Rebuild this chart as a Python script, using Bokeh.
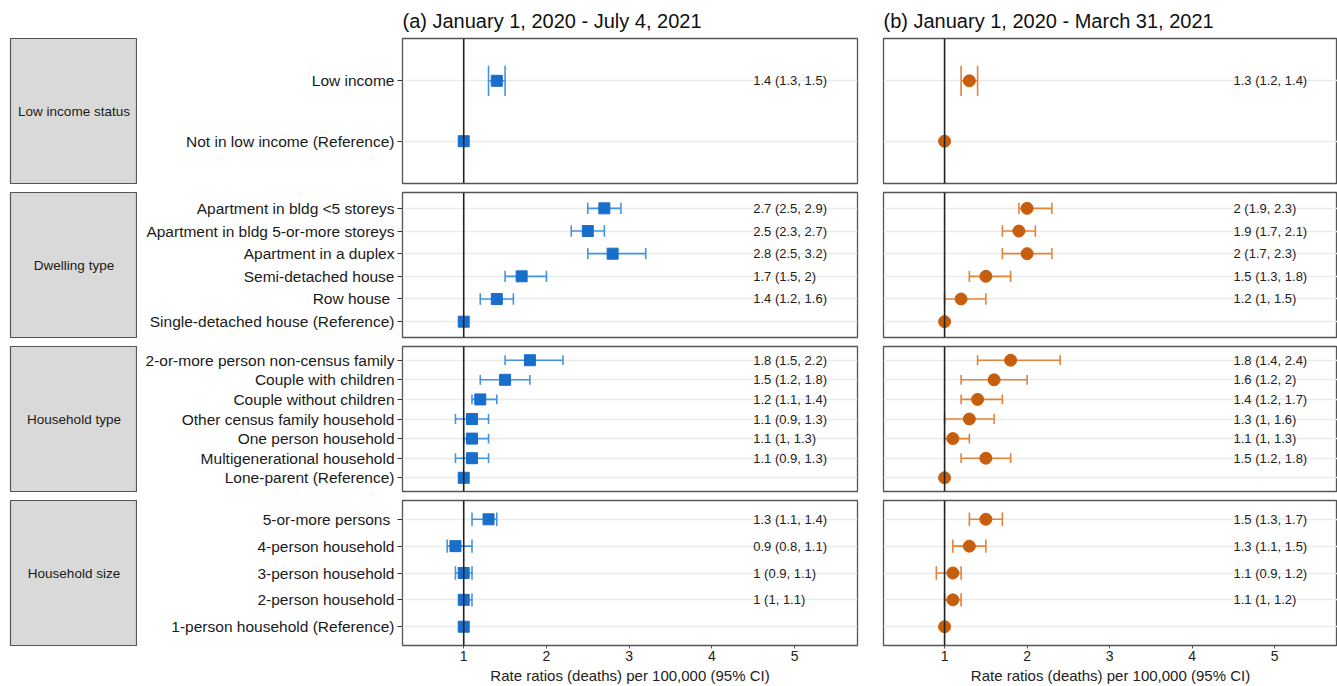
from bokeh.plotting import figure
from bokeh.layouts import column, row
from bokeh.models import ColumnDataSource, FactorRange, Range1d, Span, FixedTicker, Label
from bokeh.transform import dodge
from bokeh.embed import file_html
from bokeh.resources import INLINE
from bokeh.core.properties import value

# ---------------- data ----------------
groups = ["Low income status", "Dwelling type", "Household type", "Household size"]

cats_income = ["Low income", "Not in low income (Reference)"]
cats_dwelling = ["Apartment in bldg <5 storeys", "Apartment in bldg 5-or-more storeys",
                 "Apartment in a duplex", "Semi-detached house", "Row house ",
                 "Single-detached house (Reference)"]
cats_hhtype = ["2-or-more person non-census family", "Couple with children",
               "Couple without children", "Other census family household",
               "One person household", "Multigenerational household",
               "Lone-parent (Reference)"]
cats_hhsize = ["5-or-more persons ", "4-person household", "3-person household",
               "2-person household", "1-person household (Reference)"]

# Panel (a): January 1, 2020 - July 4, 2021
a_income_est = [1.4, 1.0]
a_income_lo = [1.3, None]
a_income_hi = [1.5, None]
a_dwelling_est = [2.7, 2.5, 2.8, 1.7, 1.4, 1.0]
a_dwelling_lo = [2.5, 2.3, 2.5, 1.5, 1.2, None]
a_dwelling_hi = [2.9, 2.7, 3.2, 2.0, 1.6, None]
a_hhtype_est = [1.8, 1.5, 1.2, 1.1, 1.1, 1.1, 1.0]
a_hhtype_lo = [1.5, 1.2, 1.1, 0.9, 1.0, 0.9, None]
a_hhtype_hi = [2.2, 1.8, 1.4, 1.3, 1.3, 1.3, None]
a_hhsize_est = [1.3, 0.9, 1.0, 1.0, 1.0]
a_hhsize_lo = [1.1, 0.8, 0.9, 1.0, None]
a_hhsize_hi = [1.4, 1.1, 1.1, 1.1, None]

# Panel (b): January 1, 2020 - March 31, 2021
b_income_est = [1.3, 1.0]
b_income_lo = [1.2, None]
b_income_hi = [1.4, None]
b_dwelling_est = [2.0, 1.9, 2.0, 1.5, 1.2, 1.0]
b_dwelling_lo = [1.9, 1.7, 1.7, 1.3, 1.0, None]
b_dwelling_hi = [2.3, 2.1, 2.3, 1.8, 1.5, None]
b_hhtype_est = [1.8, 1.6, 1.4, 1.3, 1.1, 1.5, 1.0]
b_hhtype_lo = [1.4, 1.2, 1.2, 1.0, 1.0, 1.2, None]
b_hhtype_hi = [2.4, 2.0, 1.7, 1.6, 1.3, 1.8, None]
b_hhsize_est = [1.5, 1.3, 1.1, 1.1, 1.0]
b_hhsize_lo = [1.3, 1.1, 0.9, 1.0, None]
b_hhsize_hi = [1.7, 1.5, 1.2, 1.2, None]

title_a = "(a) January 1, 2020 - July 4, 2021"
title_b = "(b) January 1, 2020 - March 31, 2021"
x_label = "Rate ratios (deaths) per 100,000 (95% CI)"
x_ticks = [1, 2, 3, 4, 5]
ref_value = 1

# ---------------- styling / layout ----------------
FONT = "Liberation Sans"
X_START, X_END = 0.26, 5.76
LABEL_X = 4.5
FRAME_H = 145
A_FRAME_W = 455
B_FRAME_W = 454
STRIP_W = 127
BLUE, BLUE_CI = "#1a6ecb", "#4594e0"
ORANGE, ORANGE_CI = "#c65e0e", "#e2843a"
BORDER = "#555555"
GRID = "#ebebeb"

cats_all = [cats_income, cats_dwelling, cats_hhtype, cats_hhsize]
panel_a = [(a_income_est, a_income_lo, a_income_hi), (a_dwelling_est, a_dwelling_lo, a_dwelling_hi),
           (a_hhtype_est, a_hhtype_lo, a_hhtype_hi), (a_hhsize_est, a_hhsize_lo, a_hhsize_hi)]
panel_b = [(b_income_est, b_income_lo, b_income_hi), (b_dwelling_est, b_dwelling_lo, b_dwelling_hi),
           (b_hhtype_est, b_hhtype_lo, b_hhtype_hi), (b_hhsize_est, b_hhsize_lo, b_hhsize_hi)]


def fmt(v):
    return f"{v:g}"


def borders(i):
    top = 38 if i == 0 else 5
    bottom = 41 if i == 3 else 4
    return top, bottom


def make_strip(i):
    top, bottom = borders(i)
    s = figure(x_range=Range1d(0, 1), y_range=Range1d(0, 1),
               frame_width=STRIP_W, frame_height=FRAME_H,
               min_border_left=10, min_border_right=0,
               min_border_top=top, min_border_bottom=bottom,
               x_axis_location=None, y_axis_location=None,
               toolbar_location=None, output_backend="svg")
    s.grid.visible = False
    s.background_fill_color = "#d9d9d9"
    s.outline_line_color = BORDER
    s.outline_line_width = 1.2
    s.add_layout(Label(x=0.5, y=0.5, text=groups[i], text_align="center",
                       text_baseline="middle", text_font=FONT,
                       text_font_size="13.5px", text_color="#1a1a1a"))
    return s


def make_panel(i, data, side):
    cats = cats_all[i]
    est, lo, hi = data
    top, bottom = borders(i)
    show_x = (i == 3)
    yr = FactorRange(factors=list(reversed(cats)), range_padding=0.2,
                     range_padding_units="absolute")
    if side == "a":
        mbl, mbr, fw = 265, 13, A_FRAME_W
    else:
        mbl, mbr, fw = 13, 0, B_FRAME_W
    p = figure(x_range=Range1d(X_START, X_END), y_range=yr,
               frame_width=fw, frame_height=FRAME_H,
               min_border_left=mbl, min_border_right=mbr,
               min_border_top=top, min_border_bottom=bottom,
               x_axis_location="below" if show_x else None,
               toolbar_location=None, output_backend="svg")
    p.background_fill_color = "white"
    p.border_fill_color = "white"
    p.outline_line_color = BORDER
    p.outline_line_width = 1.3
    p.xgrid.visible = False

    # y axis
    p.yaxis.axis_line_color = None
    p.yaxis.major_tick_in = 0
    p.yaxis.major_tick_out = 5
    p.yaxis.major_tick_line_color = "#333333"
    p.yaxis.major_label_standoff = 3
    p.yaxis.major_label_text_font = FONT
    p.yaxis.major_label_text_font_size = "15.5px"
    p.yaxis.major_label_text_color = "#1a1a1a"
    p.yaxis.minor_tick_line_color = None
    if side == "b":
        p.yaxis.visible = False
    p.ygrid.grid_line_color = GRID
    p.ygrid.grid_line_width = 1.4

    if show_x:
        p.xaxis.ticker = FixedTicker(ticks=x_ticks)
        p.xaxis.axis_line_color = None
        p.xaxis.major_tick_in = 0
        p.xaxis.major_tick_out = 3
        p.xaxis.major_tick_line_color = "#555555"
        p.xaxis.minor_tick_line_color = None
        p.xaxis.major_label_standoff = 2
        p.xaxis.major_label_text_font = FONT
        p.xaxis.major_label_text_font_size = "14px"
        p.xaxis.major_label_text_color = "#222222"
        p.xaxis.axis_label = x_label
        p.xaxis.axis_label_standoff = 3
        p.xaxis.axis_label_text_font = FONT
        p.xaxis.axis_label_text_font_size = "15px"
        p.xaxis.axis_label_text_font_style = "normal"
        p.xaxis.axis_label_text_color = "#222222"

    if i == 0:
        p.title.text = title_a if side == "a" else title_b
        p.title.text_font = FONT
        p.title.text_font_size = "20px"
        p.title.text_font_style = "normal"
        p.title.text_color = "#111111"
        p.title.align = "left"
        p.title.standoff = 14

    p.add_layout(Span(location=ref_value, dimension="height",
                      line_color="#222222", line_width=1.6))

    ci_idx = [k for k in range(len(cats)) if lo[k] is not None]
    ci = ColumnDataSource(dict(
        cat=[cats[k] for k in ci_idx],
        lo=[lo[k] for k in ci_idx],
        hi=[hi[k] for k in ci_idx],
        label=[f"{fmt(est[k])} ({fmt(lo[k])}, {fmt(hi[k])})" for k in ci_idx],
        lx=[LABEL_X for _ in ci_idx],
    ))
    pts = ColumnDataSource(dict(cat=cats, est=est))
    c_pt, c_ci = (BLUE, BLUE_CI) if side == "a" else (ORANGE, ORANGE_CI)

    p.segment(x0="lo", x1="hi", y0="cat", y1="cat", source=ci,
              line_color=c_ci, line_width=1.6)
    p.segment(x0="lo", x1="lo", y0=dodge("cat", -0.25, range=yr),
              y1=dodge("cat", 0.25, range=yr), source=ci,
              line_color=c_ci, line_width=1.6)
    p.segment(x0="hi", x1="hi", y0=dodge("cat", -0.25, range=yr),
              y1=dodge("cat", 0.25, range=yr), source=ci,
              line_color=c_ci, line_width=1.6)
    if side == "a":
        p.scatter(x="est", y="cat", source=pts, marker="square", size=11,
                  fill_color=c_pt, line_color=c_pt)
    else:
        p.scatter(x="est", y="cat", source=pts, marker="circle", size=12,
                  fill_color=c_pt, line_color=c_pt)
    p.text(x="lx", y="cat", text="label", source=ci, text_align="left",
           text_baseline="middle", text_font=value(FONT),
           text_font_size="13px", text_color="#222222")
    return p


rows = []
for i in range(4):
    rows.append(row(make_strip(i), make_panel(i, panel_a[i], "a"),
                    make_panel(i, panel_b[i], "b"), spacing=0))
layout = column(*rows, spacing=0)

open("out.html", "w").write(file_html(layout, INLINE))
